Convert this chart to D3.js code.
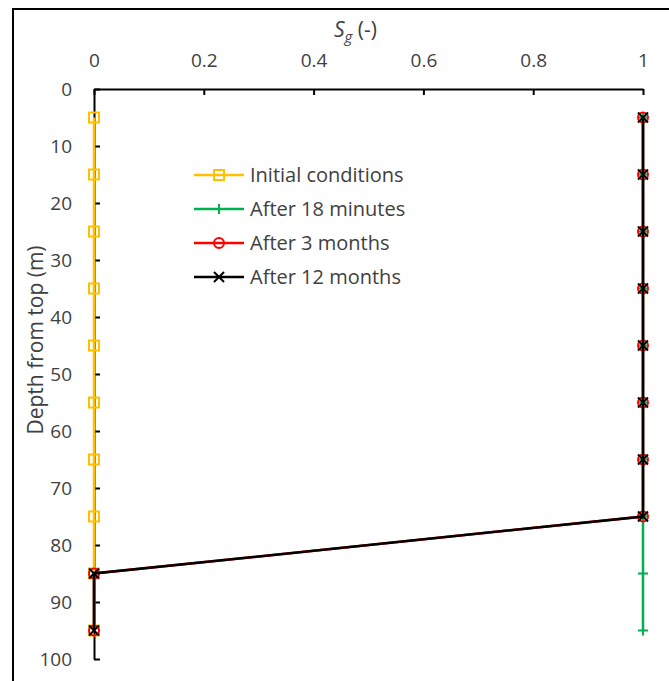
<!DOCTYPE html>
<html>
  <head>
    <meta charset="utf-8">
    <script src="https://d3js.org/d3.v7.min.js"></script>
    <style>
      body { margin: 0px; background: #fff; }
      text { font-family: 'Open Sans', sans-serif; fill: #404040; }
      .tick text { font-size: 19px; }
      .legend text { font-size: 20px; }
    </style>
  </head>
  <body>
    <svg width="669" height="681"></svg>
    <script>
      const depths = [5, 15, 25, 35, 45, 55, 65, 75, 85, 95];
      const initial = [0, 0, 0, 0, 0, 0, 0, 0, 0, 0];
      const after18min = [1, 1, 1, 1, 1, 1, 1, 1, 1, 1];
      const after3mo = [1, 1, 1, 1, 1, 1, 1, 1, 0, 0];
      const after12mo = [1, 1, 1, 1, 1, 1, 1, 1, 0, 0];
      const xTicks = [0, 0.2, 0.4, 0.6, 0.8, 1];
      const yTicks = [0, 10, 20, 30, 40, 50, 60, 70, 80, 90, 100];

      const series = [
        { name: 'Initial conditions', values: initial, color: '#FFC000', marker: 'square' },
        { name: 'After 18 minutes', values: after18min, color: '#00B050', marker: 'plus' },
        { name: 'After 3 months', values: after3mo, color: '#FF0000', marker: 'circle' },
        { name: 'After 12 months', values: after12mo, color: '#000000', marker: 'cross' }
      ];

      const svg = d3.select('svg');
      const x = d3.scaleLinear().domain([0, 1]).range([94, 643]);
      const y = d3.scaleLinear().domain([0, 100]).range([89, 659]);

      // frame
      svg.append('path')
          .attr('d', 'M13,681 V9 H669')
          .attr('fill', 'none').attr('stroke', '#000').attr('stroke-width', 2);

      // top axis
      const xAxisG = svg.append('g')
          .attr('transform', `translate(0,${y(0)})`)
          .call(d3.axisTop(x).tickValues(xTicks).tickFormat(d => d).tickSizeInner(-6).tickSizeOuter(0).tickPadding(22));
      xAxisG.select('.domain').attr('stroke-width', 2);
      xAxisG.selectAll('.tick line').attr('stroke-width', 2);
      xAxisG.selectAll('.tick text').attr('fill', '#404040');

      // left axis
      const yAxisG = svg.append('g')
          .attr('transform', `translate(${x(0)},0)`)
          .call(d3.axisLeft(y).tickValues(yTicks).tickSizeInner(-6).tickSizeOuter(0).tickPadding(22));
      yAxisG.select('.domain').attr('stroke-width', 2);
      yAxisG.selectAll('.tick line').attr('stroke-width', 2);
      yAxisG.selectAll('.tick text').attr('fill', '#404040');

      // axis titles
      const title = svg.append('text')
          .attr('x', 334).attr('y', 37)
          .style('font-size', '21px');
      title.append('tspan').attr('font-style', 'italic').text('S');
      title.append('tspan').attr('font-style', 'italic').attr('dy', 5).style('font-size', '15px').text('g');
      title.append('tspan').attr('dy', -5).text(' (-)');

      svg.append('text')
          .attr('transform', `translate(43,${340}) rotate(-90)`)
          .attr('text-anchor', 'middle')
          .style('font-size', '21px')
          .text('Depth from top (m)');

      const line = d3.line().x(d => x(d[0])).y(d => y(d[1]));

      function drawMarker(g, type, color) {
        const s = 5;
        if (type === 'square') {
          g.append('rect').attr('x', -s).attr('y', -s).attr('width', 2 * s).attr('height', 2 * s)
              .attr('fill', 'none').attr('stroke', color).attr('stroke-width', 2);
        } else if (type === 'circle') {
          g.append('circle').attr('r', s).attr('fill', 'none').attr('stroke', color).attr('stroke-width', 2);
        } else if (type === 'plus') {
          g.append('path').attr('d', `M${-s},0H${s}M0,${-s}V${s}`).attr('stroke', color).attr('stroke-width', 2);
        } else {
          g.append('path').attr('d', `M${-s},${-s}L${s},${s}M${-s},${s}L${s},${-s}`).attr('stroke', color).attr('stroke-width', 2);
        }
      }

      series.forEach(s => {
        const pts = s.values.map((v, i) => [v, depths[i]]);
        svg.append('path')
            .datum(pts)
            .attr('d', line)
            .attr('fill', 'none')
            .attr('stroke', s.color)
            .attr('stroke-width', 2.5);
        svg.append('g').selectAll('g').data(pts).enter().append('g')
            .attr('transform', d => `translate(${x(d[0])},${y(d[1])})`)
            .each(function () { drawMarker(d3.select(this), s.marker, s.color); });
      });

      // legend
      const legend = svg.append('g').attr('class', 'legend').attr('transform', 'translate(194,175)');
      series.forEach((s, i) => {
        const row = legend.append('g').attr('transform', `translate(0,${i * 34})`);
        row.append('line').attr('x1', 0).attr('x2', 50).attr('stroke', s.color).attr('stroke-width', 2.5);
        drawMarker(row.append('g').attr('transform', 'translate(25,0)'), s.marker, s.color);
        row.append('text').attr('x', 56).attr('dy', '0.35em').text(s.name);
      });
    </script>
  </body>
</html>
